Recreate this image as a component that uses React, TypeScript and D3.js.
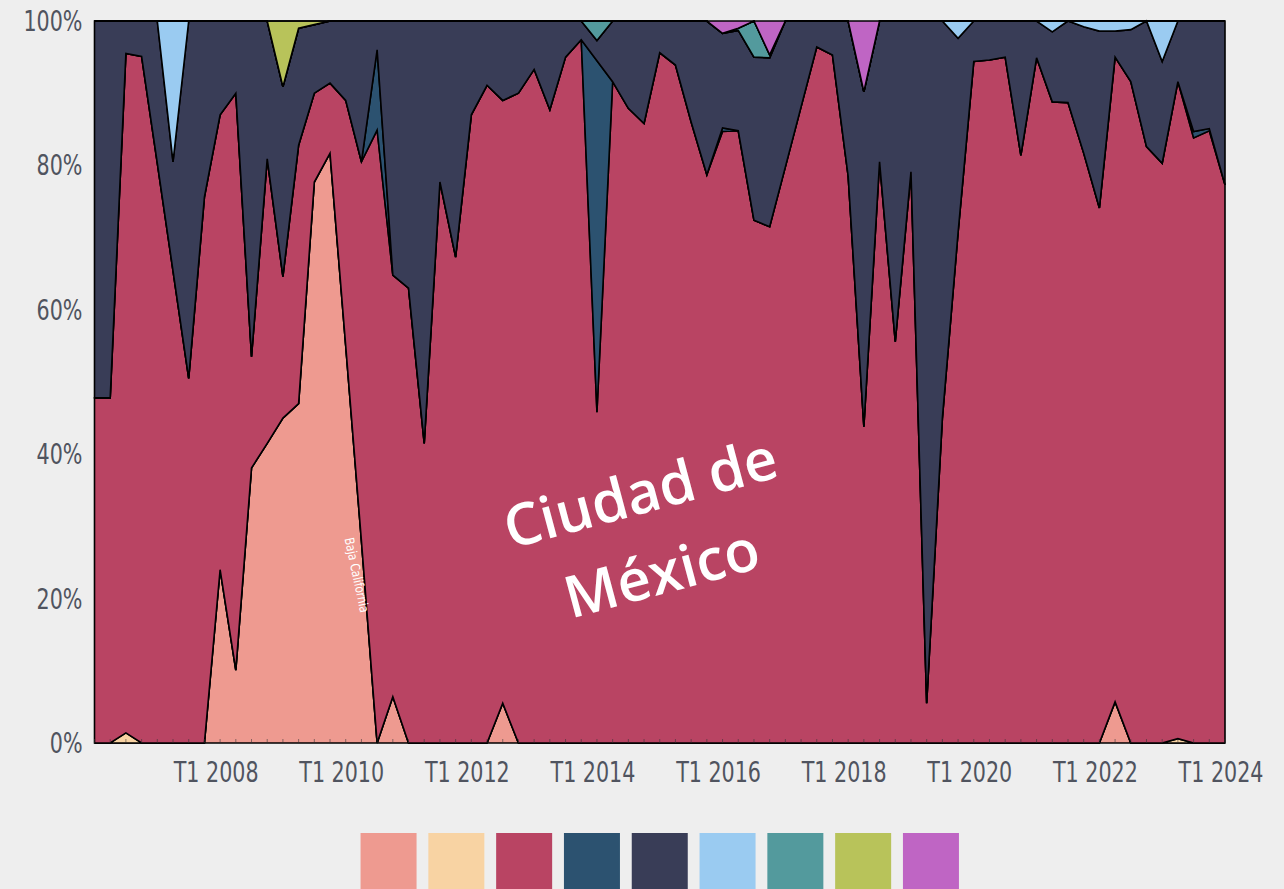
import React from 'react';
import * as d3 from 'd3';

// T1 2006 .. T1 2024, one point per quarter
const years = d3.range(2006, 2025);
const quarters = years.flatMap(y => ['T1', 'T2', 'T3', 'T4'].map(q => `${q} ${y}`)).slice(0, 73);
const tickLabels = ['T1 2008', 'T1 2010', 'T1 2012', 'T1 2014', 'T1 2016', 'T1 2018', 'T1 2020', 'T1 2022', 'T1 2024'];
const yTicks = [0, 0.2, 0.4, 0.6, 0.8, 1];

const seriesKeys = ['Baja California', 'Chihuahua', 'Ciudad de México', 'Coahuila', 'Jalisco', 'Nuevo León', 'Puebla', 'Querétaro', 'Sonora'];
const seriesColors = ['#ee9a90', '#f8d3a3', '#b94463', '#2c5270', '#393d57', '#9acbf1', '#539a9d', '#b8c35a', '#bf65c4'];

const bajaCalifornia = [
  0, 0, 0, 0, 0, 0, 0, 0,
  24, 10.1, 38.1, 41.5, 45, 47, 77.7, 81.7,
  55, 28, 0, 6.4, 0, 0, 0, 0,
  0, 0, 5.5, 0, 0, 0, 0, 0,
  0, 0, 0, 0, 0, 0, 0, 0,
  0, 0, 0, 0, 0, 0, 0, 0,
  0, 0, 0, 0, 0, 0, 0, 0,
  0, 0, 0, 0, 0, 0, 0, 0,
  0, 5.7, 0, 0, 0, 0, 0, 0,
  0,
];
const chihuahua = [
  0, 0, 1.4, 0, 0, 0, 0, 0,
  0, 0, 0, 0, 0, 0, 0, 0,
  0, 0, 0, 0, 0, 0, 0, 0,
  0, 0, 0, 0, 0, 0, 0, 0,
  0, 0, 0, 0, 0, 0, 0, 0,
  0, 0, 0, 0, 0, 0, 0, 0,
  0, 0, 0, 0, 0, 0, 0, 0,
  0, 0, 0, 0, 0, 0, 0, 0,
  0, 0, 0, 0, 0, 0.6, 0, 0,
  0,
];
const ciudadDeMexico = [
  47.8, 47.8, 94.1, 95.1, 80.3, 65.4, 50.5, 75.6,
  63, 79.9, 15.4, 39.4, 19.6, 35.8, 12.3, 9.7,
  34, 52.5, 84.9, 58.4, 63, 41.5, 77.7, 67.3,
  87, 91.1, 83.5, 90, 93.3, 87.7, 95, 97.4,
  45.8, 91.6, 87.9, 85.8, 95.6, 93.9, 86, 78.7,
  84.7, 84.8, 72.4, 71.5, 79.8, 88.1, 96.4, 95.3,
  78.5, 43.8, 80.5, 55.6, 79.1, 5.5, 45, 70.7,
  94.4, 94.6, 95, 81.4, 94.9, 88.8, 88.7, 81.7,
  74.1, 89.3, 91.6, 82.6, 80.3, 91, 83.8, 84.8,
  77.3,
];
const coahuila = [
  0, 0, 0, 0, 0, 0, 0, 0,
  0, 0, 0, 0, 0, 0, 0, 0,
  0, 0, 11.1, 0, 0, 0, 0, 0,
  0, 0, 0, 0, 0, 0, 0, 0,
  48.7, 0, 0, 0, 0, 0, 0, 0,
  0.5, 0, 0, 0, 0, 0, 0, 0,
  0, 0, 0, 0, 0, 0, 0, 0,
  0, 0, 0, 0, 0, 0, 0, 0,
  0, 0, 0, 0, 0, 0, 0.9, 0.3,
  0,
];
const jalisco = [
  52.2, 52.2, 4.5, 4.9, 19.7, 15.1, 49.5, 24.4,
  13, 10, 46.5, 19.1, 26.3, 16.2, 9.5, 8.6,
  11, 19.5, 4, 35.2, 37, 58.5, 22.3, 32.7,
  13, 8.9, 11, 10, 6.7, 12.3, 5, 2.6,
  2.8, 8.4, 12.1, 14.2, 4.4, 6.1, 14, 21.3,
  13.1, 13.9, 22.6, 23.4, 20.2, 11.9, 3.6, 4.7,
  21.5, 46.4, 19.5, 44.4, 20.9, 94.5, 55, 26.9,
  5.6, 5.4, 5, 18.6, 5.1, 9.7, 11.3, 17.5,
  24.5, 3.6, 7.2, 17.4, 14.1, 8.4, 15.3, 14.9,
  22.7,
];
const nuevoLeon = [
  0, 0, 0, 0, 0, 19.5, 0, 0,
  0, 0, 0, 0, 0, 0, 0, 0,
  0, 0, 0, 0, 0, 0, 0, 0,
  0, 0, 0, 0, 0, 0, 0, 0,
  0, 0, 0, 0, 0, 0, 0, 0,
  0, 0, 0, 0, 0, 0, 0, 0,
  0, 0, 0, 0, 0, 0, 0, 2.4,
  0, 0, 0, 0, 0, 1.5, 0, 0.8,
  1.4, 1.4, 1.2, 0, 5.6, 0, 0, 0,
  0,
];
const puebla = [
  0, 0, 0, 0, 0, 0, 0, 0,
  0, 0, 0, 0, 0, 0, 0, 0,
  0, 0, 0, 0, 0, 0, 0, 0,
  0, 0, 0, 0, 0, 0, 0, 0,
  2.7, 0, 0, 0, 0, 0, 0, 0,
  0, 0.3, 5, 0.4, 0, 0, 0, 0,
  0, 0, 0, 0, 0, 0, 0, 0,
  0, 0, 0, 0, 0, 0, 0, 0,
  0, 0, 0, 0, 0, 0, 0, 0,
  0,
];
const queretaro = [
  0, 0, 0, 0, 0, 0, 0, 0,
  0, 0, 0, 0, 9.1, 1, 0.5, 0,
  0, 0, 0, 0, 0, 0, 0, 0,
  0, 0, 0, 0, 0, 0, 0, 0,
  0, 0, 0, 0, 0, 0, 0, 0,
  0, 0, 0, 0, 0, 0, 0, 0,
  0, 0, 0, 0, 0, 0, 0, 0,
  0, 0, 0, 0, 0, 0, 0, 0,
  0, 0, 0, 0, 0, 0, 0, 0,
  0,
];
const sonora = [
  0, 0, 0, 0, 0, 0, 0, 0,
  0, 0, 0, 0, 0, 0, 0, 0,
  0, 0, 0, 0, 0, 0, 0, 0,
  0, 0, 0, 0, 0, 0, 0, 0,
  0, 0, 0, 0, 0, 0, 0, 0,
  1.7, 1, 0, 4.7, 0, 0, 0, 0,
  0, 9.8, 0, 0, 0, 0, 0, 0,
  0, 0, 0, 0, 0, 0, 0, 0,
  0, 0, 0, 0, 0, 0, 0, 0,
  0,
];

const seriesValues = [bajaCalifornia, chihuahua, ciudadDeMexico, coahuila, jalisco, nuevoLeon, puebla, queretaro, sonora];

const width = 1284;
const height = 889;
const marginLeft = 94.5;
const marginRight = 59;
const marginTop = 21;
const marginBottom = 146;
const axisFont = "'DejaVu Sans Condensed', 'Liberation Sans Narrow', sans-serif";
const squeeze = 0.82; // the original axis font is a narrow one

export default function App() {
  const table = quarters.map((q, i) => {
    const row: any = { quarter: q };
    seriesKeys.forEach((k, j) => { row[k] = seriesValues[j][i]; });
    return row;
  });

  const series = d3.stack()
    .keys(seriesKeys)
    .offset(d3.stackOffsetExpand)(table);

  const x = d3.scalePoint()
    .domain(quarters)
    .range([marginLeft, width - marginRight]);

  const y = d3.scaleLinear()
    .domain([0, 1])
    .range([height - marginBottom, marginTop]);

  const area = d3.area<any>()
    .x(d => x(d.data.quarter))
    .y0(d => y(d[0]))
    .y1(d => y(d[1]));

  const color = d3.scaleOrdinal<string>().domain(seriesKeys).range(seriesColors);

  const legendSize = 56;
  const legendStep = 67.8;
  const legendX = (marginLeft + width - marginRight) / 2 - (legendStep * (seriesKeys.length - 1) + legendSize) / 2;

  return (
    <div style={{ position: 'fixed', left: 0, top: 0 }}>
      <svg width={width} height={height} style={{ display: 'block', background: '#eeeeee' }}>
        <rect width={width} height={height} fill="#eeeeee" />
        <g>
          {series.map(s => (
            <path key={s.key} d={area(s) || ''} fill={color(s.key)} stroke="#000" strokeWidth={1.6} strokeLinejoin="miter" />
          ))}
        </g>
        {/* quarter ticks */}
        <g stroke="#333" strokeOpacity={0.55}>
          {quarters.map(q => (
            <line key={q} x1={x(q)} x2={x(q)} y1={y(0)} y2={y(0) - 4} />
          ))}
        </g>
        <g fontFamily={axisFont} fontSize={28} fill="#50545f">
          {tickLabels.map(t => (
            <text key={t} transform={`translate(${(x(t) as number) - 4},${y(0) + 39}) scale(${squeeze},1)`} textAnchor="middle">{t}</text>
          ))}
          {yTicks.map(t => (
            <text key={t} transform={`translate(${marginLeft - 12},${y(t)}) scale(${squeeze},1)`} dy="0.36em" textAnchor="end">{d3.format('.0%')(t)}</text>
          ))}
        </g>
        <text transform="translate(357,575) rotate(78) scale(0.9,1)" textAnchor="middle" dy="0.35em"
          fontFamily={axisFont} fontSize={13} fill="#fff">Baja California</text>
        <g transform="translate(651,533) rotate(-15)" fill="#fff" fontFamily="'Open Sans', sans-serif"
          fontWeight={600} fontSize={58} textAnchor="middle">
          <text y={-21}>Ciudad de</text>
          <text y={62}>México</text>
        </g>
        <g>
          {seriesKeys.map((k, i) => (
            <rect key={k} x={legendX + i * legendStep} y={833} width={legendSize} height={legendSize} fill={color(k)} />
          ))}
        </g>
      </svg>
    </div>
  );
}
